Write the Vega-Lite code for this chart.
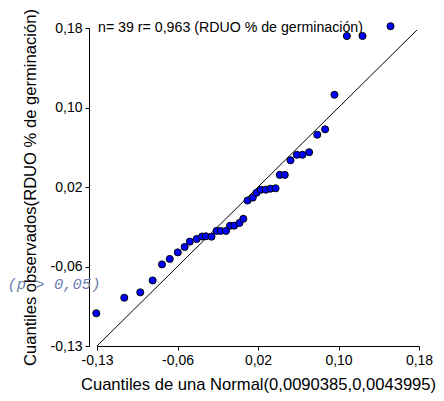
{
  "$schema": "https://vega.github.io/schema/vega-lite/v6.json",
  "width": 322,
  "height": 318,
  "autosize": {"type": "none"},
  "padding": {"left": 97, "top": 28, "right": 25, "bottom": 55},
  "background": "white",
  "config": {
    "view": {"stroke": null},
    "font": "Liberation Sans"
  },
  "datasets": {
    "puntos": [
      {"x": -0.1357, "y": -0.1021},
      {"x": -0.1079, "y": -0.0864},
      {"x": -0.0920, "y": -0.0810},
      {"x": -0.0797, "y": -0.0690},
      {"x": -0.0704, "y": -0.0529},
      {"x": -0.0627, "y": -0.0474},
      {"x": -0.0547, "y": -0.0408},
      {"x": -0.0479, "y": -0.0353},
      {"x": -0.0428, "y": -0.0300},
      {"x": -0.0360, "y": -0.0273},
      {"x": -0.0306, "y": -0.0248},
      {"x": -0.0269, "y": -0.0246},
      {"x": -0.0212, "y": -0.0250},
      {"x": -0.0162, "y": -0.0192},
      {"x": -0.0122, "y": -0.0192},
      {"x": -0.0068, "y": -0.0192},
      {"x": -0.0028, "y": -0.0140},
      {"x": 0.0013, "y": -0.0139},
      {"x": 0.0066, "y": -0.0112},
      {"x": 0.0104, "y": -0.0070},
      {"x": 0.0146, "y": 0.0114},
      {"x": 0.0198, "y": 0.0143},
      {"x": 0.0236, "y": 0.0192},
      {"x": 0.0278, "y": 0.0222},
      {"x": 0.0328, "y": 0.0223},
      {"x": 0.0374, "y": 0.0233},
      {"x": 0.0425, "y": 0.0237},
      {"x": 0.0466, "y": 0.0372},
      {"x": 0.0516, "y": 0.0372},
      {"x": 0.0573, "y": 0.0519},
      {"x": 0.0636, "y": 0.0574},
      {"x": 0.0692, "y": 0.0574},
      {"x": 0.0758, "y": 0.0600},
      {"x": 0.0839, "y": 0.0776},
      {"x": 0.0917, "y": 0.0830},
      {"x": 0.1010, "y": 0.1178},
      {"x": 0.1133, "y": 0.1769},
      {"x": 0.1289, "y": 0.1770},
      {"x": 0.1567, "y": 0.1868}
    ],
    "diagonal": [
      {"x": -0.135, "y": -0.135},
      {"x": 0.183, "y": 0.183}
    ],
    "encabezado": [
      {"x": -0.135, "y": 0.185, "texto": "n= 39 r= 0,963 (RDUO % de germinación)"}
    ],
    "prueba": [
      {"x": -0.224, "y": -0.073, "texto": "(p > 0,05)"}
    ]
  },
  "encoding": {
    "x": {
      "field": "x",
      "type": "quantitative",
      "scale": {"domain": [-0.135, 0.185], "nice": false, "zero": false},
      "axis": {
        "values": [-0.135, -0.055, 0.025, 0.105, 0.185],
        "labelExpr": "datum.value < -0.1 ? '-0,13' : datum.value < 0 ? '-0,06' : datum.value < 0.05 ? '0,02' : datum.value < 0.15 ? '0,10' : '0,18'",
        "title": "Cuantiles de una Normal(0,0090385,0,0043995)",
        "grid": false,
        "labelFlush": false,
        "labelOverlap": false,
        "labelFontSize": 14,
        "labelColor": "black",
        "labelPadding": 3,
        "tickSize": 4,
        "tickColor": "black",
        "domainColor": "black",
        "titleFontSize": 16.6,
        "titleFontWeight": "normal",
        "titleColor": "black",
        "titlePadding": 9
      }
    },
    "y": {
      "field": "y",
      "type": "quantitative",
      "scale": {"domain": [-0.135, 0.185], "nice": false, "zero": false},
      "axis": {
        "values": [-0.135, -0.055, 0.025, 0.105, 0.185],
        "labelExpr": "datum.value < -0.1 ? '-0,13' : datum.value < 0 ? '-0,06' : datum.value < 0.05 ? '0,02' : datum.value < 0.15 ? '0,10' : '0,18'",
        "title": "Cuantiles observados(RDUO % de germinación)",
        "offset": 8,
        "grid": false,
        "labelFlush": false,
        "labelOverlap": false,
        "labelFontSize": 14,
        "labelColor": "black",
        "labelPadding": 3,
        "tickSize": 4,
        "tickColor": "black",
        "domainColor": "black",
        "titleFontSize": 16.6,
        "titleFontWeight": "normal",
        "titleColor": "black",
        "titlePadding": 12
      }
    }
  },
  "layer": [
    {
      "data": {"name": "diagonal"},
      "mark": {"type": "line", "color": "black", "strokeWidth": 1}
    },
    {
      "data": {"name": "puntos"},
      "mark": {"type": "point", "shape": "circle", "filled": true, "fill": "#0000ff", "stroke": "black", "strokeWidth": 1, "size": 50, "opacity": 1}
    },
    {
      "data": {"name": "encabezado"},
      "mark": {"type": "text", "align": "left", "baseline": "middle", "dx": 1, "fontSize": 14.2, "color": "black"},
      "encoding": {"text": {"field": "texto"}}
    },
    {
      "data": {"name": "prueba"},
      "mark": {"type": "text", "align": "left", "baseline": "middle", "font": "Liberation Mono", "fontStyle": "italic", "fontSize": 15.5, "color": "#6c7fb0"},
      "encoding": {"text": {"field": "texto"}}
    }
  ]
}
